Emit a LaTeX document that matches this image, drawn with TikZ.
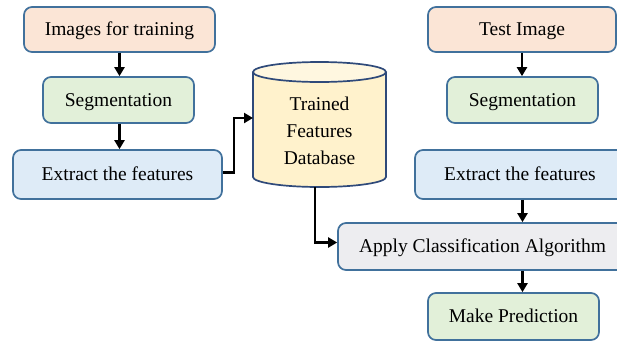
\documentclass[tikz,border=0pt]{standalone}
\usepackage{fontspec}
\setmainfont{Liberation Serif}
\usetikzlibrary{arrows.meta,calc}
\definecolor{peach}{HTML}{FBE5D6}
\definecolor{greenf}{HTML}{E2F0D9}
\definecolor{bluef}{HTML}{DEEBF7}
\definecolor{yellowf}{HTML}{FFF2CC}
\definecolor{grayf}{HTML}{EDEDF0}
\definecolor{bord}{HTML}{41719C}
\definecolor{cylbord}{HTML}{2F4A7A}
\tikzset{
  box/.style={draw=bord, line width=1.7pt, rounded corners=8pt, inner sep=0pt,
    text height=14pt, text depth=2pt,
    font=\fontsize{19.5}{22}\selectfont, text=black},
  arr/.style={draw=black, line width=2.4pt, -{Triangle[length=9pt,width=10pt]}},
}
\begin{document}
\begin{tikzpicture}[x=1pt,y=-1pt]
\useasboundingbox (0,0) rectangle (617,341);
\clip (0,0) rectangle (617,341);
% left column
\node[box, fill=peach, minimum width=191pt, minimum height=45pt] (b1) at (119.5,29.5) {Images for training};
\node[box, fill=greenf, minimum width=151pt, minimum height=46pt] (b2) at (118.5,100) {Segmentation};
\node[box, fill=bluef, minimum width=209pt, minimum height=49pt] (b3) at (117.5,174.5) {Extract the features};
% database cylinder
\fill[yellowf] (253,72) -- (253,177) arc[start angle=180, end angle=360, x radius=66.5pt, y radius=10pt] -- (386,72) arc[start angle=0, end angle=180, x radius=66.5pt, y radius=10pt] -- cycle;
\draw[cylbord, line width=1.7pt] (253,72) -- (253,177) arc[start angle=180, end angle=360, x radius=66.5pt, y radius=10pt] -- (386,72);
\draw[cylbord, line width=1.7pt, fill=yellowf!60!white] (319.5,72) ellipse[x radius=66.5pt, y radius=10pt];
\node[inner sep=0pt, minimum width=133pt, align=center,
  font=\fontsize{19.5}{27}\selectfont, text=black] (db) at (319.5,131) {Trained\\Features\\Database};
% right column
\node[box, fill=peach, minimum width=188pt, minimum height=45pt] (t1) at (522,29.5) {Test Image};
\node[box, fill=greenf, minimum width=151pt, minimum height=46pt] (t2) at (522.5,100) {Segmentation};
\node[box, fill=bluef, minimum width=210pt, minimum height=49pt] (t3) at (520,174.5) {Extract the features};
\node[box, fill=grayf, minimum width=289pt, minimum height=47pt] (apply) at (482.5,246.5) {Apply Classification Algorithm};
\node[box, fill=greenf, minimum width=171pt, minimum height=47pt] (make) at (513.5,316.5) {Make Prediction};
% connectors
\coordinate (dbw) at (253,118);
\coordinate (dbs) at (315,187);
\draw[arr] (b1.south) -- (b2.north -| b1.south);
\draw[arr] (b2.south -| b1.south) -- (b3.north -| b1.south);
\draw[arr] ([yshift=2pt]b3.east) -- ++(11,0) |- (dbw);
\draw[arr] (dbs) |- ([yshift=4pt]apply.west);
\draw[arr] (t1.south) -- (t2.north -| t1.south);
\draw[arr] (t3.south -| t2.south) -- (apply.north -| t2.south);
\draw[arr] (apply.south -| t2.south) -- (make.north -| t2.south);
\end{tikzpicture}
\end{document}
